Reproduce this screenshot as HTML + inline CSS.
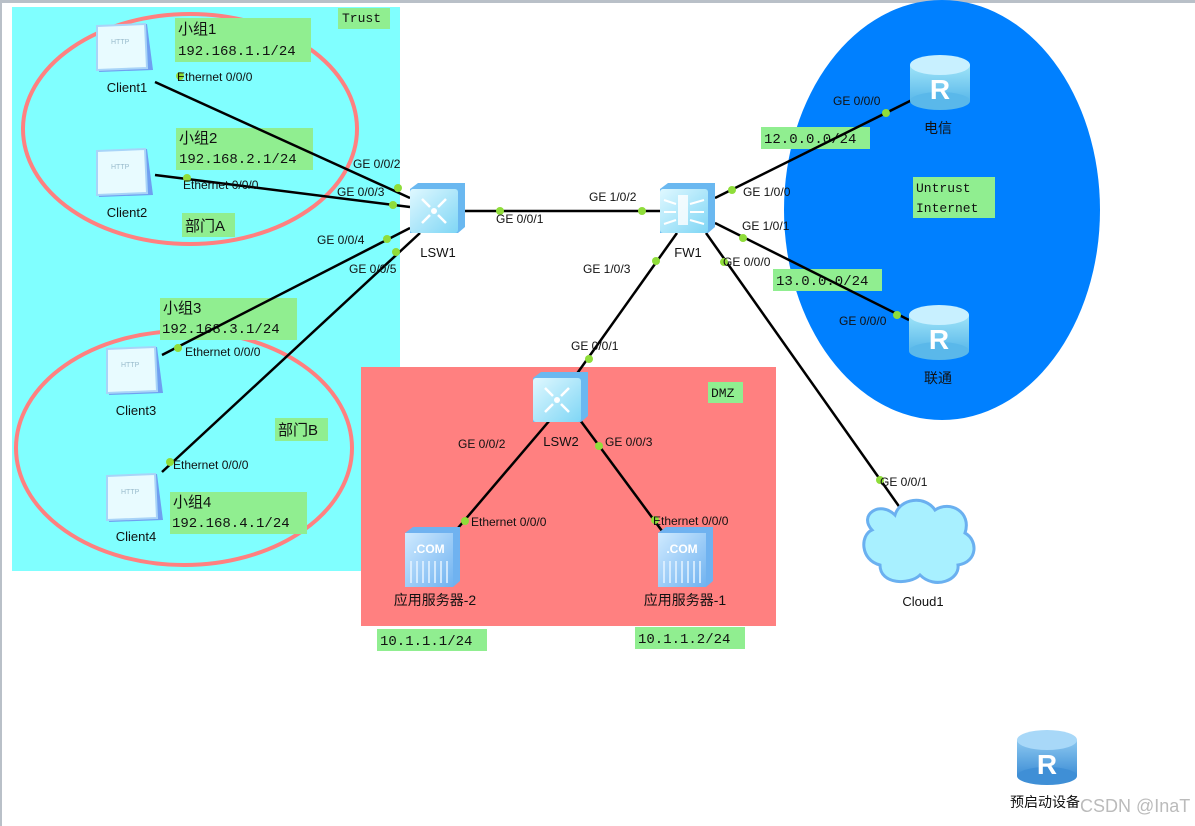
<!DOCTYPE html>
<html><head><meta charset="utf-8"><style>
html,body{margin:0;padding:0;background:#fff;}
svg{display:block;}
text{font-family:"Liberation Sans","Noto Sans CJK SC",sans-serif;fill:#111;}
.m{font-family:"Liberation Mono","Noto Sans CJK SC",monospace;}
</style></head><body>
<svg width="1195" height="826" viewBox="0 0 1195 826" xmlns="http://www.w3.org/2000/svg">
<defs>
<linearGradient id="gsw" x1="0" y1="0" x2="1" y2="1"><stop offset="0" stop-color="#dff8ff"/><stop offset="1" stop-color="#7fd6f5"/></linearGradient>
<linearGradient id="rt" x1="0" y1="0" x2="0" y2="1"><stop offset="0" stop-color="#9fe4f8"/><stop offset="1" stop-color="#5ab8ea"/></linearGradient>
<linearGradient id="rt2" x1="0" y1="0" x2="0" y2="1"><stop offset="0" stop-color="#8cc8f0"/><stop offset="1" stop-color="#3f8fd6"/></linearGradient>
<linearGradient id="gsv" x1="0" y1="0" x2="1" y2="1"><stop offset="0" stop-color="#cfeaff"/><stop offset="1" stop-color="#6fb2f0"/></linearGradient>
<g id="pc"><path d="M4 4 L50 2 L56 48 L2 50 Z" fill="#6f9ff0"/><path d="M0 4 L48 2 L50 46 L0 48 Z" fill="#e8fbff" stroke="#a8d4f8" stroke-width="2"/><text x="14" y="22" font-size="7" style="fill:#9bc">HTTP</text></g>
<g id="swi"><path d="M0 6 L8 0 L55 0 L55 44 L48 50 L0 50 Z" fill="#6ab8f0"/><rect x="0" y="6" width="48" height="44" rx="3" fill="url(#gsw)"/><circle cx="24" cy="28" r="3" fill="#fff"/><path d="M12 16 L20 24 M36 16 L28 24 M12 40 L20 32 M36 40 L28 32" stroke="#fff" stroke-width="2.5"/></g>
<g id="rtr"><rect x="0" y="10" width="60" height="36" fill="url(#rt)"/><ellipse cx="30" cy="46" rx="30" ry="9" fill="#5ab8ea"/><ellipse cx="30" cy="10" rx="30" ry="10" fill="#c8f0ff"/><text x="30" y="44" font-size="28" text-anchor="middle" style="fill:#fff;font-weight:bold">R</text></g>
<g id="srv"><path d="M0 6 L8 0 L55 0 L55 54 L48 60 L0 60 Z" fill="#6fb2f0"/><rect x="0" y="6" width="48" height="54" fill="url(#gsv)"/><text x="24" y="26" font-size="12" text-anchor="middle" style="fill:#fff;font-weight:bold">.COM</text><path d="M6 34 L6 56 M12 34 L12 56 M18 34 L18 56 M24 34 L24 56 M30 34 L30 56 M36 34 L36 56 M42 34 L42 56" stroke="#e6f4ff" stroke-width="1.5"/></g>
</defs>
<rect x="0" y="0" width="1195" height="3" fill="#b9c0c8"/>
<rect x="0" y="0" width="2" height="826" fill="#b9c0c8"/>
<rect x="12" y="7" width="388" height="564" fill="#80ffff"/>
<rect x="361" y="367" width="415" height="259" fill="#ff8080"/>
<ellipse cx="942" cy="210" rx="158" ry="210" fill="#0080ff"/>
<ellipse cx="190" cy="129" rx="167" ry="115" fill="none" stroke="#ff8080" stroke-width="4"/>
<ellipse cx="184" cy="448" rx="168" ry="117" fill="none" stroke="#ff8080" stroke-width="4"/>
<g font-size="12" class="m">
<rect x="338" y="8" width="52" height="21" fill="#90ee90"/><text class="m" x="342" y="22" font-size="13">Trust</text>
<rect x="175" y="18" width="136" height="44" fill="#90ee90"/><text x="178" y="34" font-size="15">小组1</text><text class="m" x="178" y="55" font-size="14">192.168.1.1/24</text>
<rect x="176" y="128" width="137" height="42" fill="#90ee90"/><text x="179" y="143" font-size="15">小组2</text><text class="m" x="179" y="163" font-size="14">192.168.2.1/24</text>
<rect x="182" y="213" width="53" height="24" fill="#90ee90"/><text x="185" y="231" font-size="15">部门A</text>
<rect x="160" y="298" width="137" height="42" fill="#90ee90"/><text x="163" y="313" font-size="15">小组3</text><text class="m" x="162" y="333" font-size="14">192.168.3.1/24</text>
<rect x="275" y="418" width="53" height="23" fill="#90ee90"/><text x="278" y="435" font-size="15">部门B</text>
<rect x="170" y="492" width="137" height="42" fill="#90ee90"/><text x="173" y="507" font-size="15">小组4</text><text class="m" x="172" y="527" font-size="14">192.168.4.1/24</text>
<rect x="708" y="382" width="35" height="21" fill="#90ee90"/><text class="m" x="711" y="397" font-size="13">DMZ</text>
<rect x="761" y="127" width="109" height="22" fill="#90ee90"/><text class="m" x="764" y="143" font-size="14">12.0.0.0/24</text>
<rect x="773" y="269" width="109" height="22" fill="#90ee90"/><text class="m" x="776" y="285" font-size="14">13.0.0.0/24</text>
<rect x="913" y="177" width="82" height="41" fill="#90ee90"/><text class="m" x="916" y="192" font-size="13">Untrust</text><text class="m" x="916" y="212" font-size="13">Internet</text>
<rect x="377" y="629" width="110" height="22" fill="#90ee90"/><text class="m" x="380" y="645" font-size="14">10.1.1.1/24</text>
<rect x="635" y="627" width="110" height="22" fill="#90ee90"/><text class="m" x="638" y="643" font-size="14">10.1.1.2/24</text>
</g>
<g stroke="#000" stroke-width="2.5">
<line x1="155" y1="82" x2="410" y2="198"/>
<line x1="155" y1="175" x2="410" y2="207"/>
<line x1="410" y1="228" x2="162" y2="355"/>
<line x1="420" y1="233" x2="162" y2="472"/>
<line x1="465" y1="211" x2="660" y2="211"/>
<line x1="677" y1="233" x2="576" y2="375"/>
<line x1="715" y1="198" x2="912" y2="100"/>
<line x1="715" y1="223" x2="909" y2="320"/>
<line x1="706" y1="233" x2="903" y2="512"/>
<line x1="550" y1="420" x2="452" y2="535"/>
<line x1="580" y1="420" x2="665" y2="535"/>
</g>
<g fill="#8fdd3a">
<circle cx="180" cy="76" r="4"/><circle cx="398" cy="188" r="4"/>
<circle cx="187" cy="178" r="4"/><circle cx="393" cy="205" r="4"/>
<circle cx="387" cy="239" r="4"/><circle cx="178" cy="348" r="4"/>
<circle cx="396" cy="252" r="4"/><circle cx="170" cy="462" r="4"/>
<circle cx="500" cy="211" r="4"/><circle cx="642" cy="211" r="4"/>
<circle cx="656" cy="261" r="4"/><circle cx="589" cy="359" r="4"/>
<circle cx="732" cy="190" r="4"/><circle cx="886" cy="113" r="4"/>
<circle cx="743" cy="238" r="4"/><circle cx="897" cy="315" r="4"/>
<circle cx="724" cy="262" r="4"/><circle cx="880" cy="480" r="4"/>
<circle cx="465" cy="521" r="4"/><circle cx="599" cy="446" r="4"/><circle cx="655" cy="520" r="4"/>
</g>
<use href="#pc" x="97" y="22"/><use href="#pc" x="97" y="147"/><use href="#pc" x="107" y="345"/><use href="#pc" x="107" y="472"/>
<use href="#swi" x="410" y="183"/><use href="#swi" x="533" y="372"/>
<g><path d="M660 189 L668 183 L715 183 L715 227 L708 233 L660 233 Z" fill="#6ab8f0"/><rect x="660" y="189" width="48" height="44" rx="3" fill="url(#gsw)"/><rect x="678" y="195" width="10" height="30" fill="#fff" opacity="0.8"/><path d="M664 200 L676 204 M664 212 L676 212 M664 224 L676 220 M690 204 L704 200 M690 212 L704 212 M690 220 L704 224" stroke="#fff" stroke-width="2"/></g>
<use href="#rtr" x="910" y="55"/><use href="#rtr" x="909" y="305"/>
<g transform="translate(1017,730)"><rect x="0" y="10" width="60" height="36" fill="url(#rt2)"/><ellipse cx="30" cy="46" rx="30" ry="9" fill="#3f8fd6"/><ellipse cx="30" cy="10" rx="30" ry="10" fill="#a8d8f8"/><text x="30" y="44" font-size="28" text-anchor="middle" style="fill:#fff;font-weight:bold">R</text></g>
<use href="#srv" x="405" y="527"/><use href="#srv" x="658" y="527"/>
<path d="M895 515 C880 500 858 515 872 530 C860 535 860 560 880 565 C880 585 910 585 920 575 C935 590 960 580 958 565 C978 562 978 540 965 533 C972 512 950 500 935 510 C925 495 900 498 895 515 Z" fill="#a8f0ff" stroke="#6ab0f0" stroke-width="3"/>
<g font-size="13" text-anchor="middle">
<text x="127" y="92">Client1</text><text x="127" y="217">Client2</text><text x="136" y="415">Client3</text><text x="136" y="541">Client4</text>
<text x="438" y="257">LSW1</text><text x="688" y="257">FW1</text><text x="561" y="446">LSW2</text>
<text x="938" y="133" font-size="14">电信</text><text x="938" y="383" font-size="14">联通</text>
<text x="923" y="606">Cloud1</text>
<text x="435" y="605" font-size="14">应用服务器-2</text><text x="685" y="605" font-size="14">应用服务器-1</text>
<text x="1045" y="807" font-size="14">预启动设备</text>
</g>
<text x="1080" y="812" font-size="18" style="fill:#bbb">CSDN @InaT</text>
<g font-size="12">
<text x="177" y="81">Ethernet 0/0/0</text>
<text x="353" y="168">GE 0/0/2</text>
<text x="337" y="196">GE 0/0/3</text>
<text x="183" y="189">Ethernet 0/0/0</text>
<text x="317" y="244">GE 0/0/4</text>
<text x="349" y="273">GE 0/0/5</text>
<text x="185" y="356">Ethernet 0/0/0</text>
<text x="173" y="469">Ethernet 0/0/0</text>
<text x="496" y="223">GE 0/0/1</text>
<text x="589" y="201">GE 1/0/2</text>
<text x="583" y="273">GE 1/0/3</text>
<text x="571" y="350">GE 0/0/1</text>
<text x="458" y="448">GE 0/0/2</text>
<text x="605" y="446">GE 0/0/3</text>
<text x="471" y="526">Ethernet 0/0/0</text>
<text x="653" y="525">Ethernet 0/0/0</text>
<text x="743" y="196">GE 1/0/0</text>
<text x="742" y="230">GE 1/0/1</text>
<text x="723" y="266">GE 0/0/0</text>
<text x="833" y="105">GE 0/0/0</text>
<text x="839" y="325">GE 0/0/0</text>
<text x="880" y="486">GE 0/0/1</text>
</g>
</svg>
</body></html>
